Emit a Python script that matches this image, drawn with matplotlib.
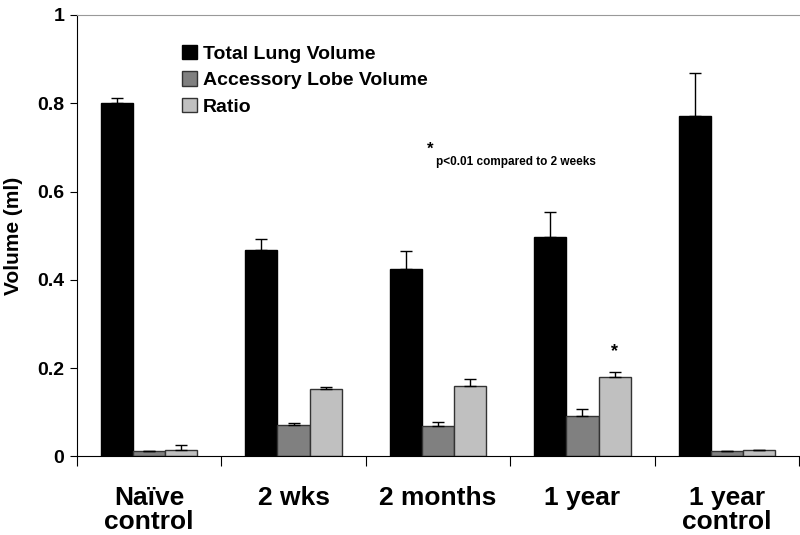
import matplotlib
matplotlib.use("Agg")
import matplotlib.pyplot as plt
import numpy as np

groups = ["Naïve\ncontrol", "2 wks", "2 months", "1 year", "1 year\ncontrol"]
total_vol = [0.80, 0.467, 0.425, 0.498, 0.77]
total_err = [0.012, 0.026, 0.040, 0.055, 0.098]
acc_vol = [0.013, 0.070, 0.068, 0.092, 0.013]
acc_err = [0.0, 0.005, 0.010, 0.015, 0.0]
ratio = [0.015, 0.152, 0.160, 0.180, 0.015]
ratio_err = [0.011, 0.006, 0.015, 0.012, 0.0]

plt.rcParams['font.family'] = ['Liberation Sans', 'DejaVu Sans']

fig = plt.figure(figsize=(8, 5.35), dpi=100)
ax = fig.add_axes([0.096, 0.147, 0.903, 0.825])

x = np.arange(len(groups))
w = 0.222
ek = dict(ecolor='black', elinewidth=1, capsize=4, capthick=1)
ax.bar(x - w, total_vol, w, color='black', edgecolor='black',
       yerr=[np.zeros(5), total_err], error_kw=ek, label='Total Lung Volume')
ax.bar(x, acc_vol, w, color='#808080', edgecolor='#333333', linewidth=1,
       yerr=[np.zeros(5), acc_err], error_kw=ek, label='Accessory Lobe Volume')
ax.bar(x + w, ratio, w, color='#c0c0c0', edgecolor='#333333', linewidth=1,
       yerr=[np.zeros(5), ratio_err], error_kw=ek, label='Ratio')

ax.set_xlim(-0.5, 4.5)
ax.set_ylim(0, 1)
ax.set_yticks([0, 0.2, 0.4, 0.6, 0.8, 1])
ax.set_yticklabels(['0', '0.2', '0.4', '0.6', '0.8', '1'], fontsize=14, fontweight='bold')
ax.tick_params(axis='y', direction='out', length=5, pad=4)

ax.set_xticks(np.arange(-0.5, 5, 1))
ax.set_xticklabels([])
ax.tick_params(axis='x', which='major', direction='out', length=7)
ax.set_xticks(x, minor=True)
ax.set_xticklabels(groups, minor=True, fontsize=19, fontweight='bold', linespacing=1.05)
ax.tick_params(axis='x', which='minor', length=0, pad=21)

ax.set_ylabel('Volume (ml)', fontsize=15, fontweight='bold', labelpad=10)

ax.spines['right'].set_visible(False)
ax.spines['top'].set_color('#999999')

ax.legend(loc='upper left', bbox_to_anchor=(0.122, 0.972), frameon=False,
          prop={'weight': 'bold', 'size': 14}, handlelength=0.75, handleheight=0.75,
          handletextpad=0.3, labelspacing=0.45)

ax.text(0.485, 0.685, '*', transform=ax.transAxes, fontsize=12, fontweight='bold')
ax.text(0.497, 0.667, 'p<0.01 compared to 2 weeks', transform=ax.transAxes, fontsize=8.5,
        fontweight='bold', va='center')
ax.text(3 + w, 0.228, '*', ha='center', fontsize=13, fontweight='bold')

fig.savefig('out.png', dpi=100)
